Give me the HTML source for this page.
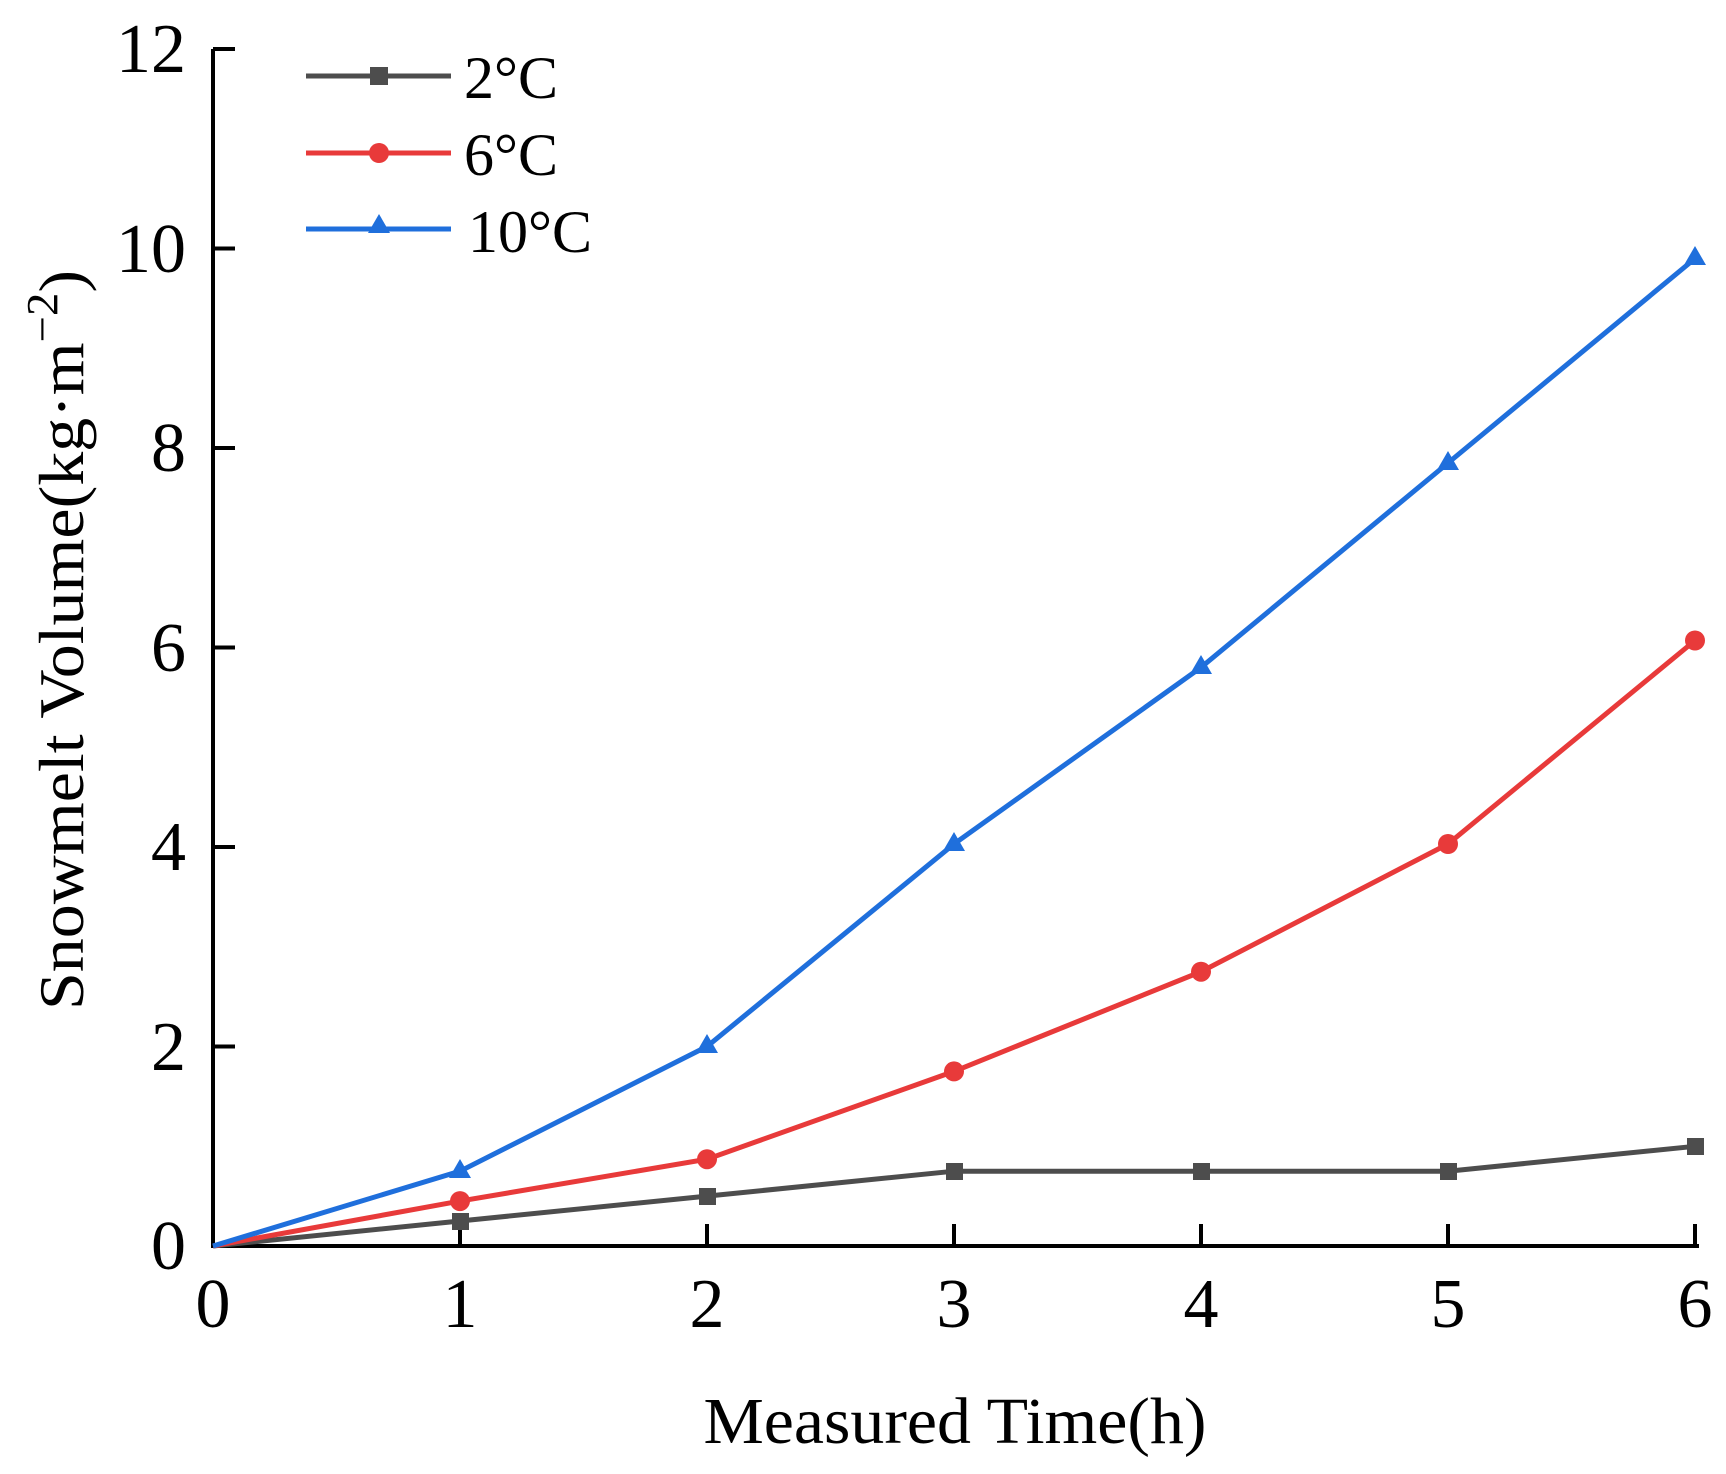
<!DOCTYPE html>
<html><head><meta charset="utf-8"><style>html,body{margin:0;padding:0;background:#fff}svg{display:block}</style></head>
<body>
<svg width="1726" height="1474" viewBox="0 0 1726 1474" xmlns="http://www.w3.org/2000/svg" font-family="Liberation Serif, serif">
<g stroke="#000" stroke-width="4" fill="none">
<path d="M213 49 V1246 H1699"/>
<path d="M213 49 h22 M213 248.5 h22 M213 448 h22 M213 647.5 h22 M213 847 h22 M213 1046.5 h22"/>
<path d="M460 1246 v-22 M707 1246 v-22 M954 1246 v-22 M1201 1246 v-22 M1448 1246 v-22 M1695 1246 v-22"/>
</g>
<g font-size="70" text-anchor="end" fill="#000">
<text x="186" y="72">12</text><text x="186" y="272">10</text><text x="186" y="471">8</text>
<text x="186" y="671">6</text><text x="186" y="870">4</text><text x="186" y="1070">2</text><text x="186" y="1269">0</text>
</g>
<g font-size="70" text-anchor="middle" fill="#000">
<text x="213" y="1327">0</text><text x="460" y="1327">1</text><text x="707" y="1327">2</text><text x="954" y="1327">3</text>
<text x="1201" y="1327">4</text><text x="1448" y="1327">5</text><text x="1695" y="1327">6</text>
</g>
<text x="955" y="1443" font-size="66" text-anchor="middle" textLength="503" lengthAdjust="spacingAndGlyphs">Measured Time(h)</text>
<text transform="translate(83,1010) rotate(-90)" font-size="64" textLength="740" lengthAdjust="spacingAndGlyphs">Snowmelt Volume(kg·m<tspan dy="-26" font-size="44">−2</tspan><tspan dy="26">)</tspan></text>
<polyline fill="none" stroke="#4d4d4d" stroke-width="5" points="213,1246 460,1221 707,1196.1 954,1171.2 1201,1171.2 1448,1171.2 1695,1146.3"/>
<g fill="#4d4d4d">
<rect x="452" y="1213" width="17" height="17"/><rect x="699" y="1188" width="17" height="17"/><rect x="946" y="1163" width="17" height="17"/>
<rect x="1193" y="1163" width="17" height="17"/><rect x="1440" y="1163" width="17" height="17"/><rect x="1687" y="1138" width="17" height="17"/>
</g>
<polyline fill="none" stroke="#e83a3a" stroke-width="5" points="213,1246 460,1201.1 707,1159.2 954,1071.4 1201,971.7 1448,844 1695,640.5"/>
<g fill="#e83a3a">
<circle cx="460" cy="1201.1" r="10"/><circle cx="707" cy="1159.2" r="10"/><circle cx="954" cy="1071.4" r="10"/>
<circle cx="1201" cy="971.7" r="10"/><circle cx="1448" cy="844" r="10"/><circle cx="1695" cy="640.5" r="10"/>
</g>
<polyline fill="none" stroke="#1f6fdc" stroke-width="5" points="213,1246 460,1171.2 707,1046.5 954,844 1201,667.4 1448,463 1695,258.5"/>
<g fill="#1f6fdc">
<path d="M460 1159 l11 19 h-22z"/><path d="M707 1034 l11 19 h-22z"/><path d="M954 832 l11 19 h-22z"/>
<path d="M1201 655 l11 19 h-22z"/><path d="M1448 451 l11 19 h-22z"/><path d="M1695 246 l11 19 h-22z"/>
</g>
<line x1="306" y1="76" x2="451" y2="76" stroke="#4d4d4d" stroke-width="5"/><rect x="370" y="67" width="18" height="18" fill="#4d4d4d"/>
<line x1="306" y1="153" x2="451" y2="153" stroke="#e83a3a" stroke-width="5"/><circle cx="379" cy="153" r="10" fill="#e83a3a"/>
<line x1="306" y1="229" x2="451" y2="229" stroke="#1f6fdc" stroke-width="5"/><path d="M379 214 l11 19 h-22z" fill="#1f6fdc"/>
<g font-size="60" fill="#000">
<text x="464" y="98">2°C</text><text x="464" y="175">6°C</text><text x="468" y="252">10°C</text>
</g>
</svg>
</body></html>
